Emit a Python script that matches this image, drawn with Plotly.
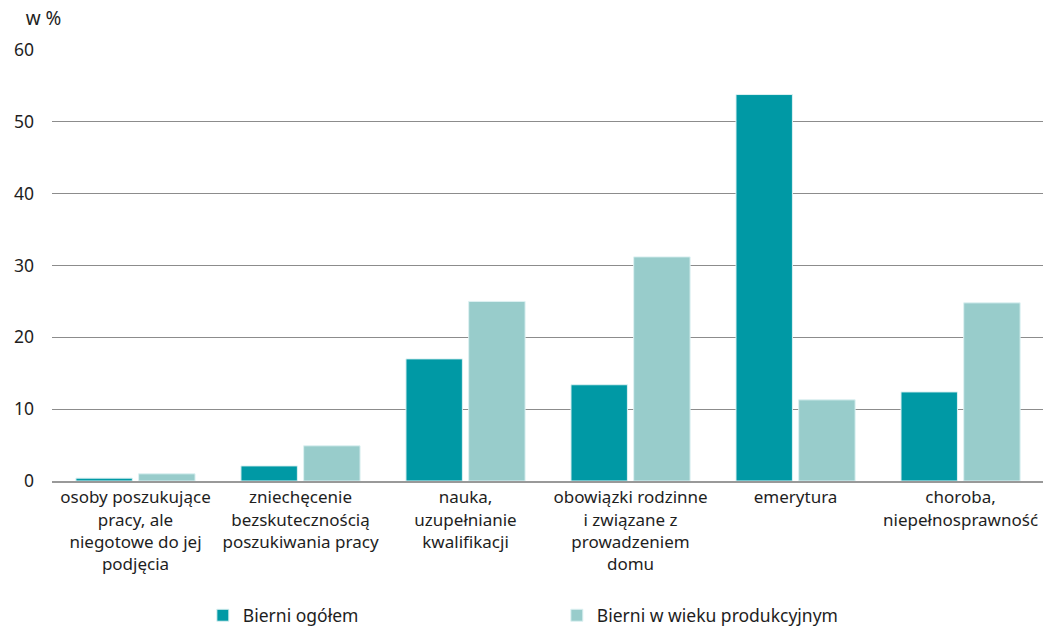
import plotly.graph_objects as go

categories = [
    "osoby poszukujące<br>pracy, ale<br>niegotowe do jej<br>podjęcia",
    "zniechęcenie<br>bezskutecznością<br>poszukiwania pracy",
    "nauka,<br>uzupełnianie<br>kwalifikacji",
    "obowiązki rodzinne<br>i związane z<br>prowadzeniem<br>domu",
    "emerytura",
    "choroba,<br>niepełnosprawność",
]
ogolem = [0.4, 2.1, 17.0, 13.4, 53.8, 12.4]
produkcyjny = [1.0, 4.9, 25.0, 31.2, 11.3, 24.8]
series_names = ["Bierni ogółem", "Bierni w wieku produkcyjnym"]
tick_vals = [0, 10, 20, 30, 40, 50, 60]

FONT = "Noto Sans"
FS = 17.5
TXT = "#1e1e1e"
fig = go.Figure()
fig.add_trace(go.Bar(x=categories, y=ogolem, name=series_names[0],
                     marker=dict(color="#0099A5", line=dict(color="#DDF1F2", width=1))))
fig.add_trace(go.Bar(x=categories, y=produkcyjny, name=series_names[1],
                     marker=dict(color="#98CCCB", line=dict(color="#DDF1F2", width=1))))

# page body has an 8px margin, so the figure is sized/offset to compensate
fig.update_layout(
    width=1043, height=621,
    margin=dict(l=44, r=0, t=42, b=148, autoexpand=False),
    paper_bgcolor="white", plot_bgcolor="white",
    barmode="group", bargap=0.24, bargroupgap=0.1,
    font=dict(family=FONT, size=FS, color=TXT),
    title=dict(text="w %", xref="container", yref="container",
               x=0.017, xanchor="left", y=1 - 10 / 621, yanchor="middle",
               font=dict(family=FONT, size=19, color=TXT)),
    showlegend=True,
    legend=dict(orientation="h", x=0.151, xanchor="left", y=-0.27, yanchor="top",
                entrywidth=309, entrywidthmode="pixels", itemwidth=30,
                font=dict(family=FONT, size=FS, color=TXT),
                traceorder="normal"),
    xaxis=dict(showgrid=False, showline=True, linecolor="#999999", linewidth=2,
               ticks="", automargin=False,
               tickfont=dict(family=FONT, size=17, color=TXT),
               range=[-0.506, 5.548]),
    yaxis=dict(range=[0, 60], tickvals=tick_vals, showgrid=True, gridcolor="#8c8c8c",
               gridwidth=1, zeroline=False, showline=False, ticks="", automargin=False,
               tickfont=dict(family=FONT, size=FS, color=TXT), ticklabelstandoff=17),
)
fig.write_html("out.html")
